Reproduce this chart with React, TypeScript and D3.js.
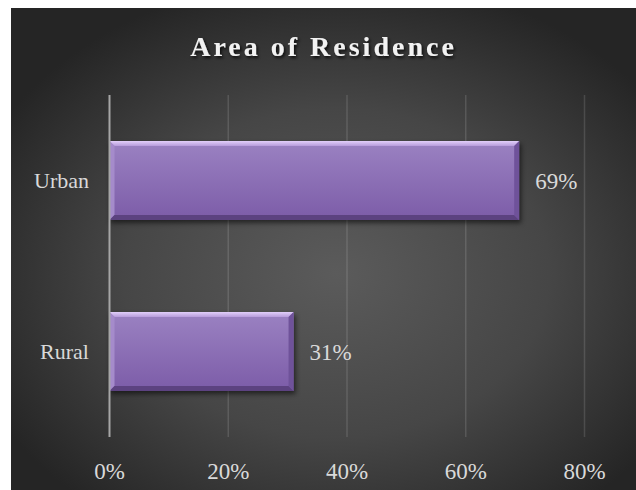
import React from "react";
import * as d3 from "d3";

const categories = ["Urban", "Rural"];
const values = [69, 31];
const ticks = [0, 20, 40, 60, 80];
const title = "Area of Residence";

const W = 636;
const H = 490;

export default function App() {
  const x = d3.scaleLinear().domain([0, 80]).range([109.5, 584.5]);
  const y = d3.scaleBand<string>().domain(categories).range([95, 437]).padding(0);
  const barH = y.bandwidth() * 0.462;
  const bev = 5;
  const font = "'Liberation Serif', 'Times New Roman', serif";

  return (
    <svg
      width={W}
      height={H}
      style={{ position: "absolute", left: 0, top: 0, display: "block" }}
    >
      <defs>
        <radialGradient id="bg" cx="52%" cy="55%" r="62%">
          <stop offset="0%" stopColor="#5b5b5b" />
          <stop offset="55%" stopColor="#464646" />
          <stop offset="100%" stopColor="#252525" />
        </radialGradient>
        <linearGradient id="barFace" x1="0" y1="0" x2="0" y2="1">
          <stop offset="0%" stopColor="#9b82c2" />
          <stop offset="100%" stopColor="#7c5ca8" />
        </linearGradient>
        <linearGradient id="barTop" x1="0" y1="0" x2="0" y2="1">
          <stop offset="0%" stopColor="#e2cffa" />
          <stop offset="100%" stopColor="#b79cdb" />
        </linearGradient>
        <filter id="shadow" x="-10%" y="-20%" width="120%" height="150%">
          <feGaussianBlur stdDeviation="2.5" />
        </filter>
        <filter id="tshadow" x="-10%" y="-30%" width="120%" height="160%">
          <feDropShadow dx="1.5" dy="2" stdDeviation="1.5" floodColor="#000" floodOpacity="0.8" />
        </filter>
      </defs>
      <rect x={11} y={8} width={W - 11} height={H - 8} fill="url(#bg)" />

      {/* gridlines */}
      {ticks.slice(1).map((t) => (
        <line
          key={t}
          x1={x(t)}
          x2={x(t)}
          y1={95}
          y2={437}
          stroke="#ffffff"
          strokeOpacity={0.13}
          strokeWidth={1.5}
        />
      ))}

      {/* bars */}
      {categories.map((c, i) => {
        const x0 = x(0);
        const x1 = x(values[i]);
        const y0 = (y(c) as number) + (y.bandwidth() - barH) / 2;
        const y1 = y0 + barH;
        return (
          <g key={c}>
            <rect
              x={x0 + 1}
              y={y0 + 3}
              width={x1 - x0 + 1}
              height={barH}
              fill="#000"
              opacity={0.55}
              filter="url(#shadow)"
            />
            <rect x={x0} y={y0} width={x1 - x0} height={barH} fill="url(#barFace)" />
            {/* top bevel */}
            <polygon
              points={`${x0},${y0} ${x1},${y0} ${x1 - bev},${y0 + bev} ${x0 + bev},${y0 + bev}`}
              fill="url(#barTop)"
            />
            {/* left bevel */}
            <polygon
              points={`${x0},${y0} ${x0 + bev},${y0 + bev} ${x0 + bev},${y1 - bev} ${x0},${y1}`}
              fill="#a58bcb"
            />
            {/* bottom bevel */}
            <polygon
              points={`${x0},${y1} ${x0 + bev},${y1 - bev} ${x1 - bev},${y1 - bev} ${x1},${y1}`}
              fill="#5c4280"
            />
            {/* right bevel */}
            <polygon
              points={`${x1},${y0} ${x1},${y1} ${x1 - bev},${y1 - bev} ${x1 - bev},${y0 + bev}`}
              fill="#6f529a"
            />
            <text
              x={x1 + 16}
              y={y0 + barH / 2 + 8}
              fill="#d9d9d9"
              fontFamily={font}
              fontSize={23}
            >
              {values[i]}%
            </text>
            <text
              x={89}
              y={y0 + barH / 2 + 7}
              fill="#d9d9d9"
              fontFamily={font}
              fontSize={22}
              textAnchor="end"
            >
              {c}
            </text>
          </g>
        );
      })}

      {/* axis line */}
      <line x1={x(0)} x2={x(0)} y1={95} y2={437} stroke="#a6a6a6" strokeWidth={2} />

      {/* tick labels */}
      {ticks.map((t) => (
        <text
          key={t}
          x={x(t)}
          y={479}
          fill="#d9d9d9"
          fontFamily={font}
          fontSize={23}
          textAnchor="middle"
        >
          {t}%
        </text>
      ))}

      {/* title */}
      <text
        x={323.5}
        y={56}
        fill="#f2f2f2"
        fontFamily={font}
        fontSize={28}
        fontWeight="bold"
        letterSpacing={3}
        textAnchor="middle"
        filter="url(#tshadow)"
      >
        {title}
      </text>
    </svg>
  );
}
